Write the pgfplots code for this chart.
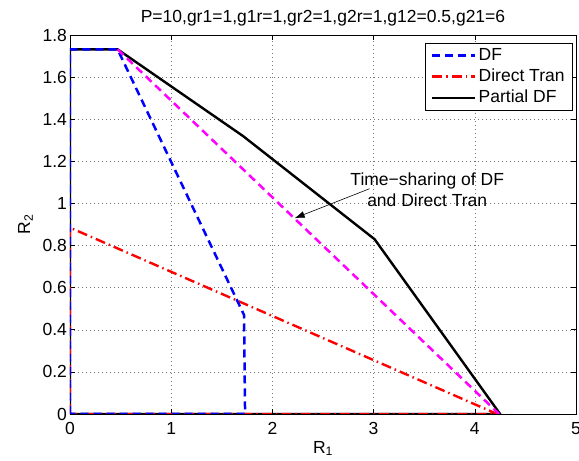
\documentclass[border=0pt]{standalone}
\usepackage{pgfplots}
\pgfplotsset{compat=1.18}
\usetikzlibrary{arrows.meta}
\usepackage{fontspec}
\setmainfont{Liberation Sans}
\definecolor{mag}{rgb}{1,0,1}

\begin{document}
\fontsize{17.5bp}{21bp}\selectfont
\begin{tikzpicture}
  \begin{axis}[
      scale only axis,
      width=506bp,
      height=379bp,
      xmin=0, xmax=5,
      ymin=0, ymax=1.8,
      xtick={0,1,2,3,4,5},
      ytick={0,0.2,0.4,0.6,0.8,1,1.2,1.4,1.6,1.8},
      grid=major,
      major grid style={black!55, line width=0.5bp, dash pattern=on 0.8bp off 3.2bp},
      tick align=inside,
      tick pos=both,
      major tick length=5bp,
      tick style={black, line width=0.6bp},
      axis line style={black, line width=0.8bp},
      /pgf/number format/assume math mode=true,
      ticklabel style={font=\fontsize{17.5bp}{21bp}\selectfont},
      xticklabel style={yshift=-2bp},
      yticklabel style={xshift=3bp},
      title={P=10,gr1=1,g1r=1,gr2=1,g2r=1,g12=0.5,g21=6},
      title style={yshift=-3bp},
      xlabel={R\textsubscript{1}},
      ylabel={R\textsubscript{2}},
      xlabel style={yshift=5bp},
      ylabel style={yshift=-2bp},
      legend style={at={(0.994,0.979)}, anchor=north east, draw=black,
        line width=0.8bp, font=\fontsize{17.5bp}{21bp}\selectfont,
        inner xsep=6bp, inner ysep=3bp, row sep=2bp},
      legend cell align=left,
      legend image code/.code={\draw[#1] (0bp,0bp) -- (43bp,0bp);},
    ]
    % Partial DF
    \addplot[black, line width=2.4bp, forget plot] coordinates {
      (0,0) (0,1.732) (0.47,1.732) (1.71,1.32) (3.01,0.83) (4.25,0) (0,0)
    };
    % Direct Tran
    \addplot[red, line width=2.4bp, dash pattern=on 10bp off 4bp on 1.5bp off 4bp, forget plot] coordinates {
      (0,0) (0,0.885) (4.22,0) (0,0)
    };
    % DF
    \addplot[blue, line width=2.5bp, dash pattern=on 8bp off 5bp, forget plot] coordinates {
      (0,0) (0,1.732) (0.47,1.732) (1.72,0.47) (1.73,0) (0,0)
    };
    % time-sharing
    \addplot[mag, line width=2.5bp, dash pattern=on 8bp off 5bp, forget plot] coordinates {
      (0.47,1.732) (4.24,0)
    };
    \addlegendimage{blue, line width=2.5bp, dash pattern=on 8bp off 5bp}
    \addlegendentry{DF}
    \addlegendimage{red, line width=2.4bp, dash pattern=on 10bp off 4bp on 1.5bp off 4bp}
    \addlegendentry{Direct Tran}
    \addlegendimage{black, line width=2.4bp}
    \addlegendentry{Partial DF}

    \draw[line width=0.6bp, -{Latex[length=10bp, width=7bp]}] (axis cs:2.96,1.07) -- (axis cs:2.22,0.93);
    \node[align=center, inner sep=0pt] at (axis cs:3.53,1.064) {Time−sharing of DF\\and Direct Tran};

    \coordinate (ll) at (rel axis cs:0,0);
    \coordinate (ur) at (rel axis cs:1,1);
  \end{axis}
  \pgfresetboundingbox
  \path ([shift={(-70bp,-47bp)}]ll) rectangle ([shift={(3bp,35bp)}]ur);
\end{tikzpicture}
\end{document}
